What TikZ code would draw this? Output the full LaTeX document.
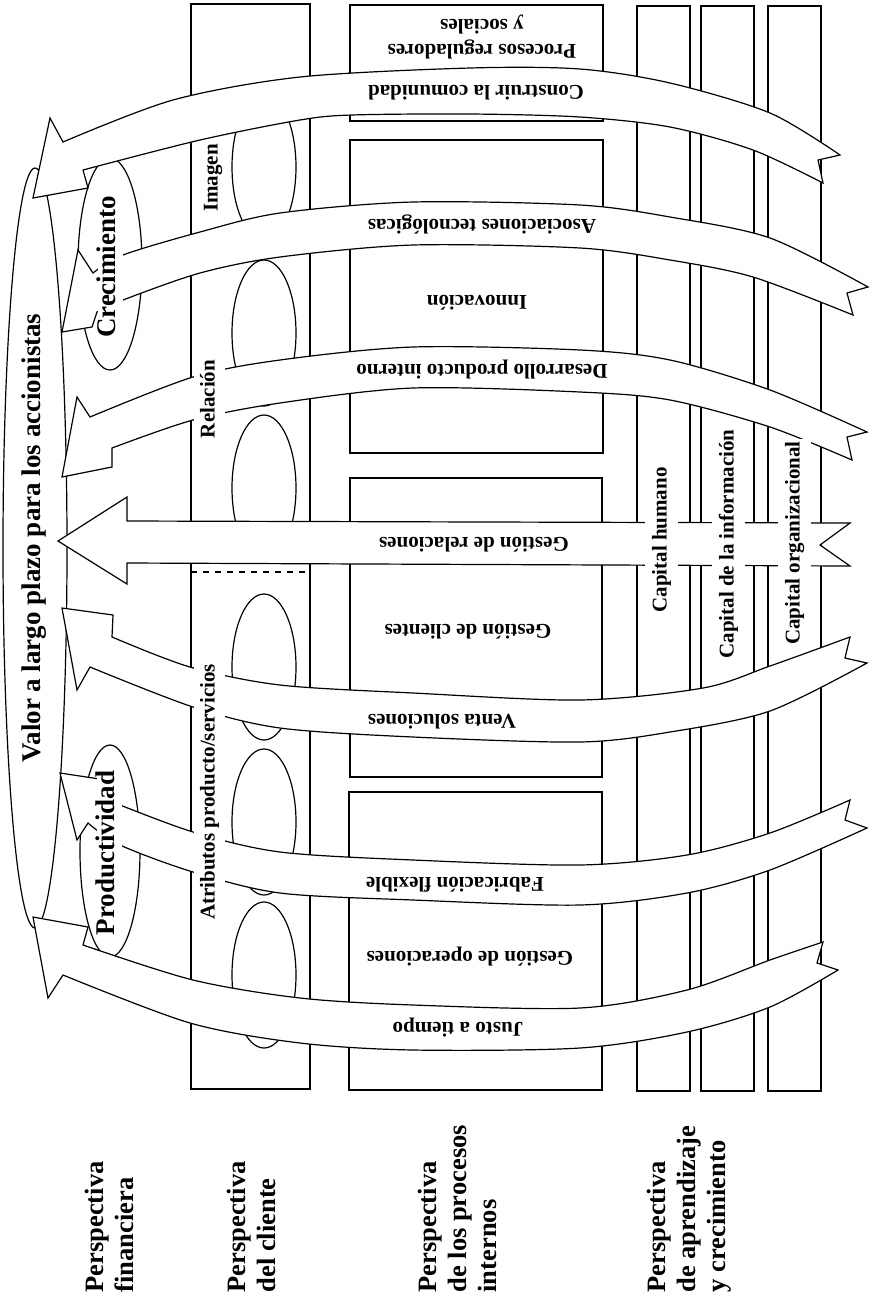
\documentclass[tikz,border=0pt]{standalone}
\usepackage{fontspec}
\setmainfont{Liberation Serif}
\begin{document}
\begin{tikzpicture}[x=0.5pt,y=-0.5pt,line width=0.6pt,
  band/.style={draw=black,fill=white,line join=miter},
  arrtxt/.style={font=\fontsize{10.5}{12.5}\selectfont\bfseries,rotate=180,inner sep=0pt,align=center},
  coltxt/.style={font=\fontsize{10.5}{12.5}\selectfont\bfseries,rotate=90,inner sep=0pt},
  bigtxt/.style={font=\fontsize{13.5}{15}\selectfont\bfseries,rotate=90,inner sep=0pt},
  persp/.style={font=\fontsize{13.25}{15}\selectfont\bfseries,rotate=90,anchor=north west,align=left,inner sep=0pt},
  knock/.style={fill=white,text height=0.75em,text depth=0.2em},
  vknock/.style={fill=white,text height=0.75em,text depth=0.2em,inner xsep=1pt,inner ysep=3pt}]
\useasboundingbox (0,0) rectangle (874,1303);

% ---- financial perspective ellipses
\draw (35,548) ellipse [x radius=32, y radius=380];
\draw (110,264) ellipse [x radius=32, y radius=106];
\draw (110,851) ellipse [x radius=30, y radius=106];

% ---- customer perspective column
\draw (191,4) rectangle (310,1089);
\draw[dashed] (191,572) -- (306,572);
\foreach \c in {167,333,488,667,822,975}
  \draw (264,\c) ellipse [x radius=32, y radius=73];

% ---- internal processes boxes
\draw (350,5) rectangle (603,121);
\draw (350,140) rectangle (603,453);
\draw (350,478) rectangle (602,777);
\draw (349,792) rectangle (602,1090);

% ---- learning and growth boxes
\draw (637,6) rectangle (690,1091);
\draw (701,6) rectangle (754,1091);
\draw (768,6) rectangle (821,1091);

% ---- arrows
% 1 Construir la comunidad
\draw[band] (83,170) -- (88,188) -- (33,198) -- (50,118) -- (63,142)
  -- plot[smooth] coordinates {(63,142) (173,100) (300,77) (470,68) (580,69) (670,83) (770,113) (840,155)}
  -- (818,160) -- (823,183)
  -- plot[smooth] coordinates {(823,183) (753,150) (670,127) (580,117) (470,114) (352,115) (300,120) (200,140) (83,170)}
  -- cycle;
% 2 Asociaciones tecnologicas
\draw[band] (97,312) -- (92,327) -- (62,332) -- (78,250) -- (93,273)
  -- plot[smooth] coordinates {(93,273) (123,255) (200,232) (280,213) (413,202) (580,205) (670,217) (770,238) (868,287)}
  -- (847,293) -- (853,315)
  -- plot[smooth] coordinates {(853,315) (753,277) (670,260) (580,248) (413,245) (280,257) (200,273) (123,300) (97,312)}
  -- cycle;
% 3 Desarrollo producto interno
\draw[band] (112,448) -- (112,467) -- (62,477) -- (77,397) -- (90,417)
  -- plot[smooth] coordinates {(90,417) (193,377) (280,360) (413,347) (580,350) (670,360) (770,390) (867,432)}
  -- (847,437) -- (852,460)
  -- plot[smooth] coordinates {(852,460) (770,427) (670,400) (580,392) (413,388) (280,403) (193,420) (112,448)}
  -- cycle;
% 4 Gestion de relaciones (straight)
\draw[band] (127,521) -- (127,497) -- (58,541) -- (127,584) -- (127,563)
  -- (850,566) -- (820,545) -- (850,523) -- cycle;
% 5 Venta soluciones
\draw[band] (90,667) -- (77,690) -- (62,608) -- (113,615) -- (112,637)
  -- plot[smooth] coordinates {(112,637) (190,667) (280,685) (413,693) (580,700) (703,688) (770,666) (850,637)}
  -- (845,658) -- (867,663)
  -- plot[smooth] coordinates {(867,663) (770,711) (670,732) (580,742) (413,737) (280,728) (193,707) (90,667)}
  -- cycle;
% 6 Fabricacion flexible
\draw[band] (88,823) -- (77,840) -- (60,773) -- (113,781) -- (110,801)
  -- plot[smooth] coordinates {(110,801) (193,832) (280,852) (413,860) (580,865) (687,855) (770,833) (850,800)}
  -- (845,820) -- (867,828)
  -- plot[smooth] coordinates {(867,828) (770,870) (687,893) (580,905) (413,900) (280,893) (193,872) (120,845) (88,823)}
  -- cycle;
% 7 Justo a tiempo
\draw[band] (63,975) -- (48,998) -- (33,917) -- (88,927) -- (83,945)
  -- plot[smooth] coordinates {(83,945) (193,980) (300,998) (413,1005) (580,1008) (687,990) (770,960) (823,942)}
  -- (817,963) -- (838,970)
  -- plot[smooth] coordinates {(838,970) (770,1007) (687,1032) (580,1048) (413,1050) (300,1043) (190,1023) (63,975)}
  -- cycle;

% ---- financial texts
\node[bigtxt] (valor) at (34,538) {Valor a largo plazo para los accionistas};
\node[bigtxt,knock,inner sep=1.5pt] (crec) at (110,267) {Crecimiento};
\node[bigtxt,knock,inner sep=1.5pt] (prod) at (109,853) {Productividad};

% ---- customer texts
\node[coltxt,vknock] (imagen) at (212,178) {Imagen};
\node[coltxt,vknock] (relacion) at (209,399) {Relación};
\node[coltxt,vknock] (atrib) at (209,792) {Atributos producto/servicios};

% ---- internal process and arrow texts
\node[arrtxt] (procreg) at (482,37) {Procesos reguladores\\y sociales};
\node[arrtxt] (construir) at (476,93) {Construir la comunidad};
\node[arrtxt] (asoc) at (482,224) {Asociaciones tecnológicas};
\node[arrtxt] (innov) at (477,303) {Innovación};
\node[arrtxt] (desarr) at (482,370) {Desarrollo producto interno};
\node[arrtxt] (gestrel) at (474,545) {Gestión de relaciones};
\node[arrtxt] (gestcli) at (468,632) {Gestión de clientes};
\node[arrtxt] (venta) at (442,722) {Venta soluciones};
\node[arrtxt] (fabric) at (455,885) {Fabricación flexible};
\node[arrtxt] (gestop) at (470,957) {Gestión de operaciones};
\node[arrtxt] (justo) at (458,1028) {Justo a tiempo};

% ---- learning texts
\node[coltxt,fill=white,text height=0.75em,text depth=0.2em,inner xsep=1pt,inner ysep=3.5pt] (caphum) at (661,540) {Capital humano};
\node[coltxt,fill=white,text height=0.75em,text depth=0.2em,inner xsep=1pt,inner ysep=3.5pt] (capinf) at (728,544) {Capital de la información};
\node[coltxt,fill=white,text height=0.75em,text depth=0.2em,inner xsep=1pt,inner ysep=3.5pt] (caporg) at (794,543) {Capital organizacional};

% ---- perspective labels
\node[persp] (pf) at (85,1293) {Perspectiva\\financiera};
\node[persp] (pc) at (227,1293) {Perspectiva\\del cliente};
\node[persp] (pi) at (418,1293) {Perspectiva\\de los procesos\\internos};
\node[persp] (pa) at (647,1293) {Perspectiva\\de aprendizaje\\y crecimiento};
\end{tikzpicture}
\end{document}
